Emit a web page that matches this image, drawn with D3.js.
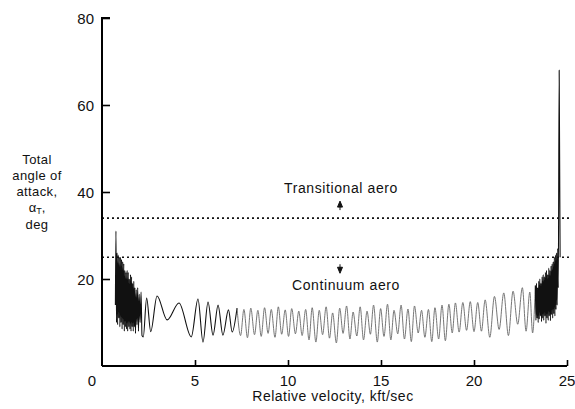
<!DOCTYPE html>
<html>
<head>
<meta charset="utf-8">
<script src="https://cdn.jsdelivr.net/npm/d3@7"></script>
<style>
  body { margin: 0; background: #fff; }
  text { font-family: "Liberation Sans", Arial, sans-serif; fill: #111; }
</style>
</head>
<body>
<div id="chart"></div>
<script>
// axis ticks
const xTicks = [0, 5, 10, 15, 20, 25];
const yTicks = [20, 40, 60, 80];

// boundary levels (deg)
const transitionalLevel = 34;
const continuumLevel = 25;

// total angle of attack vs relative velocity
// dense start (v 0.7 - 2.3 kft/sec)
const startTrace = [
  [0.72,14],[0.75,31],[0.78,10],[0.81,26],[0.84,9.5],[0.87,25.5],[0.90,11],[0.93,25],
  [0.96,9],[0.99,25],[1.02,10],[1.05,24.5],[1.08,8.5],[1.11,24],[1.14,9.5],[1.17,23.5],
  [1.20,8],[1.23,22],[1.26,9],[1.29,21.5],[1.32,8.5],[1.35,22],[1.38,8],[1.41,21.5],
  [1.44,9],[1.47,20],[1.50,8.5],[1.53,21],[1.56,8],[1.59,20.5],[1.62,9],[1.65,19],
  [1.68,8],[1.71,19.5],[1.74,9],[1.77,18],[1.80,7.5],[1.84,17.5],[1.88,9.5],[1.92,18],
  [1.96,8],[2.00,16.5],[2.05,10],[2.10,17],[2.15,7],[2.22,6.7]
];
// slow swings (v 2.3 - 7.3)
const midTrace = [
  [2.40,15.6],[2.62,7.9],[2.96,16.1],[3.50,10.6],[4.14,14.5],[4.80,6.7],[5.16,15.4],
  [5.43,5.5],[5.70,14.7],[5.97,7.1],[6.24,14],[6.50,7.1],[6.80,12.9],[7.00,7.8],[7.26,13.3]
];
// steady oscillation (v 7.3 - 23.2)
const cruiseTrace = [
  [7.45,7.0],[7.63,13.0],[7.82,6.5],[8.00,13.3],[8.20,7.2],[8.38,12.8],[8.56,6.8],[8.74,13.4],
  [8.93,7.5],[9.10,13.0],[9.30,6.6],[9.48,13.6],[9.66,7.3],[9.85,12.9],[10.03,6.8],[10.20,13.2],
  [10.40,7.4],[10.58,12.6],[10.76,7.0],[10.95,13.0],[11.13,6.0],[11.30,13.4],[11.50,5.5],[11.68,12.8],
  [11.86,7.2],[12.05,13.6],[12.23,6.4],[12.40,12.2],[12.60,5.3],[12.78,13.3],[12.96,7.5],[13.15,13.8],
  [13.33,6.2],[13.50,12.4],[13.70,6.9],[13.88,13.6],[14.06,6.0],[14.25,12.6],[14.43,7.3],[14.60,14.0],
  [14.80,5.5],[14.98,13.2],[15.16,6.8],[15.35,14.2],[15.53,6.0],[15.70,12.8],[15.90,7.4],[16.08,14.0],
  [16.26,6.2],[16.45,13.1],[16.63,5.6],[16.80,13.8],[17.00,7.6],[17.18,12.8],[17.36,6.6],[17.55,13.0],
  [17.73,5.6],[17.90,13.4],[18.10,6.2],[18.28,14.0],[18.46,5.8],[18.65,14.2],[18.83,7.6],[19.00,14.5],
  [19.20,7.8],[19.40,14.6],[19.60,8.2],[19.80,14.8],[20.00,7.9],[20.20,14.6],[20.40,8.0],[20.60,15.2],
  [20.85,6.6],[21.10,16.0],[21.35,8.4],[21.60,16.8],[21.85,7.0],[22.10,17.2],[22.35,9.6],[22.60,18.0],
  [22.80,8.0],[23.00,17.0],[23.15,7.6]
];
// dense end and final spike (v 23.3 - 24.7)
const endTrace = [
  [23.30,18.5],[23.33,10.5],[23.36,19],[23.39,11],[23.42,18],[23.45,10],[23.48,19.5],[23.51,10.8],
  [23.54,20],[23.57,11.5],[23.60,19],[23.63,10.2],[23.66,20.5],[23.69,11],[23.72,21],[23.75,10.5],
  [23.78,20.5],[23.81,11.5],[23.84,21.5],[23.87,9.8],[23.90,22],[23.93,11],[23.96,21],[23.99,10.5],
  [24.02,22.5],[24.05,11.5],[24.08,22],[24.11,10.4],[24.14,23],[24.17,11.8],[24.20,23.5],[24.23,11],
  [24.26,24],[24.29,12],[24.32,25],[24.35,11.5],[24.38,25.5],[24.41,13],[24.44,26],[24.47,14],
  [24.50,27],[24.53,18],[24.58,68],[24.63,25]
];

const W = 575, H = 409;
const svg = d3.select("#chart").append("svg")
  .attr("width", W).attr("height", H);

const x = d3.scaleLinear().domain([0, 25]).range([102, 567]);
const y = d3.scaleLinear().domain([0, 80]).range([366, 18]);

// reference levels
[transitionalLevel, continuumLevel].forEach(v => {
  svg.append("line")
    .attr("x1", x(0)).attr("x2", 571)
    .attr("y1", y(v)).attr("y2", y(v))
    .attr("stroke", "#111")
    .attr("stroke-width", 1.6)
    .attr("stroke-dasharray", "2,3");
});

// trace (the faint mid-flight part printed lighter in the source)
const line = d3.line()
  .x(d => x(d[0]))
  .y(d => y(d[1]))
  .curve(d3.curveMonotoneX);

const pieces = [
  {pts: startTrace.concat(midTrace), color: "#111", w: 1.1},
  {pts: [midTrace[midTrace.length - 1]].concat(cruiseTrace, [endTrace[0]]), color: "#666", w: 0.9},
  {pts: endTrace, color: "#111", w: 1.1}
];
svg.selectAll(".trace").data(pieces).enter().append("path")
  .attr("class", "trace")
  .attr("d", d => line(d.pts))
  .attr("fill", "none")
  .attr("stroke", d => d.color)
  .attr("stroke-width", d => d.w);

// axes
const yAxis = svg.append("g")
  .attr("transform", `translate(${x(0)},0)`)
  .call(d3.axisRight(y).tickValues(yTicks).tickSize(8).tickFormat(""));
const xAxis = svg.append("g")
  .attr("transform", `translate(0,${y(0)})`)
  .call(d3.axisTop(x).tickValues(xTicks.slice(1)).tickSize(6).tickFormat(""));
[yAxis, xAxis].forEach(g => {
  g.select(".domain").attr("stroke", "#000").attr("stroke-width", 2);
  g.selectAll(".tick line").attr("stroke", "#000").attr("stroke-width", 1.6);
});
yAxis.select(".domain").attr("d", `M8,${y(80)}H0V${y(0)}`);
xAxis.select(".domain").attr("d", `M${x(0)},${y(0)}H${x(25)}`).attr("transform", `translate(0,${-y(0)})`);

// tick labels
svg.selectAll(".ylab").data(yTicks).enter().append("text")
  .attr("x", 94).attr("y", d => y(d) + 6)
  .attr("text-anchor", "end")
  .attr("font-size", 15)
  .text(d => d);
svg.selectAll(".xlab").data(xTicks).enter().append("text")
  .attr("x", d => d === 0 ? x(d) - 10 : x(d))
  .attr("y", 386)
  .attr("text-anchor", "middle")
  .attr("font-size", 15)
  .text(d => d);

// titles
svg.append("text")
  .attr("x", 333).attr("y", 401)
  .attr("text-anchor", "middle")
  .attr("font-size", 14)
  .attr("letter-spacing", 0.5)
  .text("Relative velocity, kft/sec");

const yTitle = svg.append("text")
  .attr("text-anchor", "middle")
  .attr("font-size", 13);
["Total", "angle of", "attack,"].forEach((s, i) => {
  yTitle.append("tspan").attr("x", 37).attr("y", 164 + i * 16).attr("letter-spacing", 0.4).text(s);
});
const alpha = svg.append("text").attr("x", 37).attr("y", 212)
  .attr("text-anchor", "middle").attr("font-size", 13);
alpha.append("tspan").text("α");
alpha.append("tspan").attr("dy", 2).attr("font-size", 9).text("T");
alpha.append("tspan").attr("dy", -2).text(",");
svg.append("text").attr("x", 37).attr("y", 229)
  .attr("text-anchor", "middle").attr("font-size", 13).attr("letter-spacing", 0.4).text("deg");

// region labels
svg.append("text")
  .attr("x", 341).attr("y", 193)
  .attr("text-anchor", "middle").attr("font-size", 14)
  .attr("letter-spacing", 0.6)
  .text("Transitional aero");
svg.append("text")
  .attr("x", 346).attr("y", 290)
  .attr("text-anchor", "middle").attr("font-size", 14)
  .attr("letter-spacing", 0.6)
  .text("Continuum aero");

// small arrows
svg.append("path")
  .attr("d", `M340,${y(transitionalLevel) - 17}l-2.5,6h5z M340,${y(transitionalLevel) - 12}v4`)
  .attr("fill", "#111").attr("stroke", "#111").attr("stroke-width", 1);
svg.append("path")
  .attr("d", `M340,${y(continuumLevel) + 16}l-2.5,-6h5z M340,${y(continuumLevel) + 11}v-4`)
  .attr("fill", "#111").attr("stroke", "#111").attr("stroke-width", 1);
</script>
</body>
</html>
